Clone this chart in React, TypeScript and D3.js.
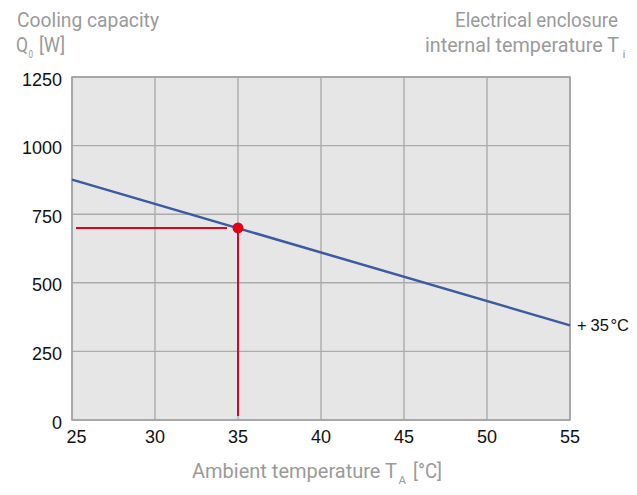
import React from "react";
import * as d3 from "d3";

const temps = [25, 55];
const capacity = [876, 345];
const xTicks = [25, 30, 35, 40, 45, 50, 55];
const yTicks = [0, 250, 500, 750, 1000, 1250];
const opPoint = { t: 35, q: 700 };
const curveLabel = ["+", "35", "°C"];

const W = 637;
const H = 495;
const M = { left: 72, right: 570, top: 77, bottom: 420 };

export default function App() {
  const x = d3.scaleLinear().domain([25, 55]).range([M.left, M.right]);
  const y = d3.scaleLinear().domain([0, 1250]).range([M.bottom, M.top]);
  const pts = temps.map((t, i) => [t, capacity[i]] as [number, number]);
  const line = d3
    .line<[number, number]>()
    .x((d) => x(d[0]))
    .y((d) => y(d[1]));

  const titleFont = "Roboto, 'Liberation Sans', sans-serif";
  const tickFont = "'Liberation Sans', Arial, sans-serif";
  const gray = "#9a9a9a";
  const grid = "#ababab";

  return (
    <svg
      width={W}
      height={H}
      style={{ position: "absolute", left: 0, top: 0, background: "#fff" }}
    >
      {/* header titles */}
      <g fill={gray} fontFamily={titleFont} fontSize={20}>
        <text x={17} y={27} textLength={142} lengthAdjust="spacingAndGlyphs">
          Cooling capacity
        </text>
        <text x={16} y={52} textLength={12} lengthAdjust="spacingAndGlyphs">
          Q
        </text>
        <text x={28.5} y={58} fontSize={11} textLength={4.5} lengthAdjust="spacingAndGlyphs">
          0
        </text>
        <text x={39} y={52} textLength={26} lengthAdjust="spacingAndGlyphs">
          [W]
        </text>

        <text x={455} y={27} textLength={163} lengthAdjust="spacingAndGlyphs">
          Electrical enclosure
        </text>
        <text x={425} y={52} textLength={194} lengthAdjust="spacingAndGlyphs">
          internal temperature T
        </text>
        <text x={622.5} y={58} fontSize={11} textLength={3} lengthAdjust="spacingAndGlyphs">
          i
        </text>

        <text x={192} y={478} textLength={205} lengthAdjust="spacingAndGlyphs">
          Ambient temperature T
        </text>
        <text x={398.5} y={484} fontSize={11} textLength={7.5} lengthAdjust="spacingAndGlyphs">
          A
        </text>
        <text x={413} y={478} textLength={29} lengthAdjust="spacingAndGlyphs">
          [°C]
        </text>
      </g>

      {/* plot background */}
      <rect
        x={M.left}
        y={M.top}
        width={M.right - M.left}
        height={M.bottom - M.top}
        fill="#e6e6e6"
      />
      {/* grid */}
      <g stroke={grid} strokeWidth={1.4}>
        {xTicks.map((t) => (
          <line key={"gx" + t} x1={x(t)} x2={x(t)} y1={M.top} y2={M.bottom} />
        ))}
        {yTicks.map((t) => (
          <line key={"gy" + t} x1={M.left} x2={M.right} y1={y(t)} y2={y(t)} />
        ))}
      </g>
      <rect
        x={M.left}
        y={M.top}
        width={M.right - M.left}
        height={M.bottom - M.top}
        fill="none"
        stroke="#a0a0a0"
        strokeWidth={1.5}
      />

      {/* tick labels */}
      <g fontFamily={tickFont} fontSize={18} fill="#111">
        {yTicks.map((t) => (
          <text key={"ly" + t} x={62} y={y(t) + 8.5} textAnchor="end">
            {t}
          </text>
        ))}
        {xTicks.map((t, i) => (
          <text
            key={"lx" + t}
            x={x(t) + (i === 0 ? 4.5 : 0)}
            y={443}
            textAnchor="middle"
          >
            {t}
          </text>
        ))}
      </g>

      {/* operating point drop lines */}
      <g stroke="#e3001b" strokeWidth={2}>
        <line
          x1={x(temps[0]) + 4}
          x2={x(opPoint.t) - 11}
          y1={y(opPoint.q)}
          y2={y(opPoint.q)}
        />
        <line
          x1={x(opPoint.t)}
          x2={x(opPoint.t)}
          y1={y(opPoint.q)}
          y2={y(0) - 4}
        />
      </g>

      {/* curve */}
      <path d={line(pts) || ""} fill="none" stroke="#3a5ba0" strokeWidth={2.5} />

      <circle cx={x(opPoint.t)} cy={y(opPoint.q)} r={5.5} fill="#e3001b" />

      {/* curve label */}
      <text
        fontFamily={tickFont}
        fontSize={16.5}
        fill="#111"
        y={y(capacity[1]) + 6}
      >
        <tspan x={577}>{curveLabel[0]}</tspan>
        <tspan x={590.5}>{curveLabel[1]}</tspan>
        <tspan x={610.5}>{curveLabel[2]}</tspan>
      </text>
    </svg>
  );
}
